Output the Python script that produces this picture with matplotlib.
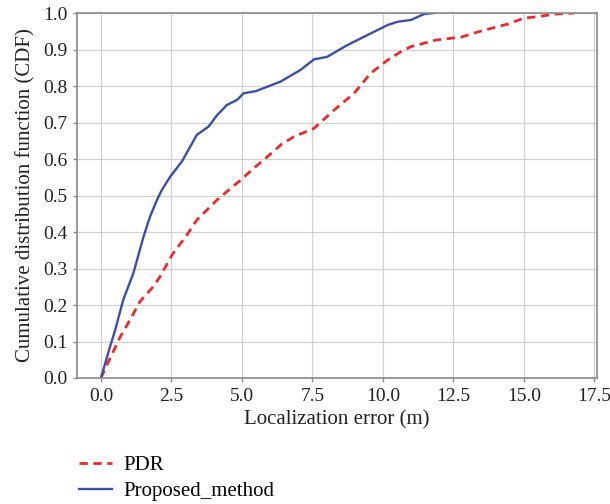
import matplotlib
matplotlib.use("Agg")
import matplotlib.pyplot as plt

# CDF curves
proposed_x = [0.0, 0.15, 0.32, 0.5, 0.79, 1.15, 1.51, 1.74, 2.0, 2.16, 2.46, 2.87, 3.17, 3.4, 3.82, 4.12, 4.47,
              4.83, 5.06, 5.5, 5.9, 6.37, 7.08, 7.56, 8.03, 8.74, 9.57, 10.17, 10.52, 11.0, 11.46, 11.8]
proposed_y = [0.0, 0.04, 0.085, 0.13, 0.214, 0.287, 0.387, 0.442, 0.49, 0.515, 0.552, 0.593, 0.634, 0.666, 0.689, 0.72, 0.748,
              0.762, 0.78, 0.786, 0.798, 0.812, 0.844, 0.873, 0.88, 0.912, 0.944, 0.967, 0.976, 0.981, 0.997, 1.0]

pdr_x = [0.0, 0.3, 0.68, 1.0, 1.39, 1.85, 2.1, 2.52, 3.05, 3.4, 4.12, 4.95, 5.5, 5.9, 6.4, 6.84, 7.56, 8.27, 8.98,
         9.57, 10.17, 10.64, 11.0, 11.89, 12.78, 13.5, 14.45, 15.0, 15.5, 16.1, 16.8]
pdr_y = [0.0, 0.05, 0.112, 0.155, 0.21, 0.25, 0.278, 0.337, 0.392, 0.433, 0.488, 0.542, 0.58, 0.606, 0.64, 0.661, 0.684, 0.734, 0.78,
         0.835, 0.871, 0.894, 0.908, 0.926, 0.934, 0.951, 0.970, 0.986, 0.99, 0.997, 1.0]

xticks = [0.0, 2.5, 5.0, 7.5, 10.0, 12.5, 15.0, 17.5]
yticks = [0.0, 0.1, 0.2, 0.3, 0.4, 0.5, 0.6, 0.7, 0.8, 0.9, 1.0]

plt.rcParams['font.family'] = ['Liberation Serif', 'DejaVu Serif']

fig = plt.figure(figsize=(6.1, 5.04), dpi=100)
ax = fig.add_axes([0.1262, 0.25, 0.8525, 0.7242])

pdr_line, = ax.plot(pdr_x, pdr_y, color='#ee2a2a', lw=2.0, ls=(0, (3.0, 2.0)), label='PDR')
prop_line, = ax.plot(proposed_x, proposed_y, color='#3a4fa8', lw=1.7, label='Proposed_method')

ax.set_xlim(-0.85, 17.6)
ax.set_ylim(0.0, 1.0)
ax.set_xticks(xticks)
ax.set_yticks(yticks)
ax.set_xticklabels([f"{t:.1f}" for t in xticks])
ax.set_yticklabels([f"{t:.1f}" for t in yticks])
ax.grid(True, color='#d2d2d2', lw=0.9)
ax.set_axisbelow(True)
for s in ax.spines.values():
    s.set_color('#8a8a8a')
    s.set_linewidth(1.2)
ax.tick_params(axis='both', colors='#8a8a8a', labelcolor='#222222', labelsize=14, length=3, width=1, pad=4)

ax.set_xlabel('Localization error (m)', fontsize=15, color='#222222', labelpad=4)
ax.set_ylabel('Cumulative distribution function (CDF)', fontsize=15, color='#222222', labelpad=5)

ax.legend(handles=[pdr_line, prop_line], loc='upper left', bbox_to_anchor=(-0.012, -0.19),
          frameon=False, fontsize=15, handlelength=1.6, handletextpad=0.55, labelspacing=0.3,
          borderaxespad=0)

fig.savefig('out.png', dpi=100)
